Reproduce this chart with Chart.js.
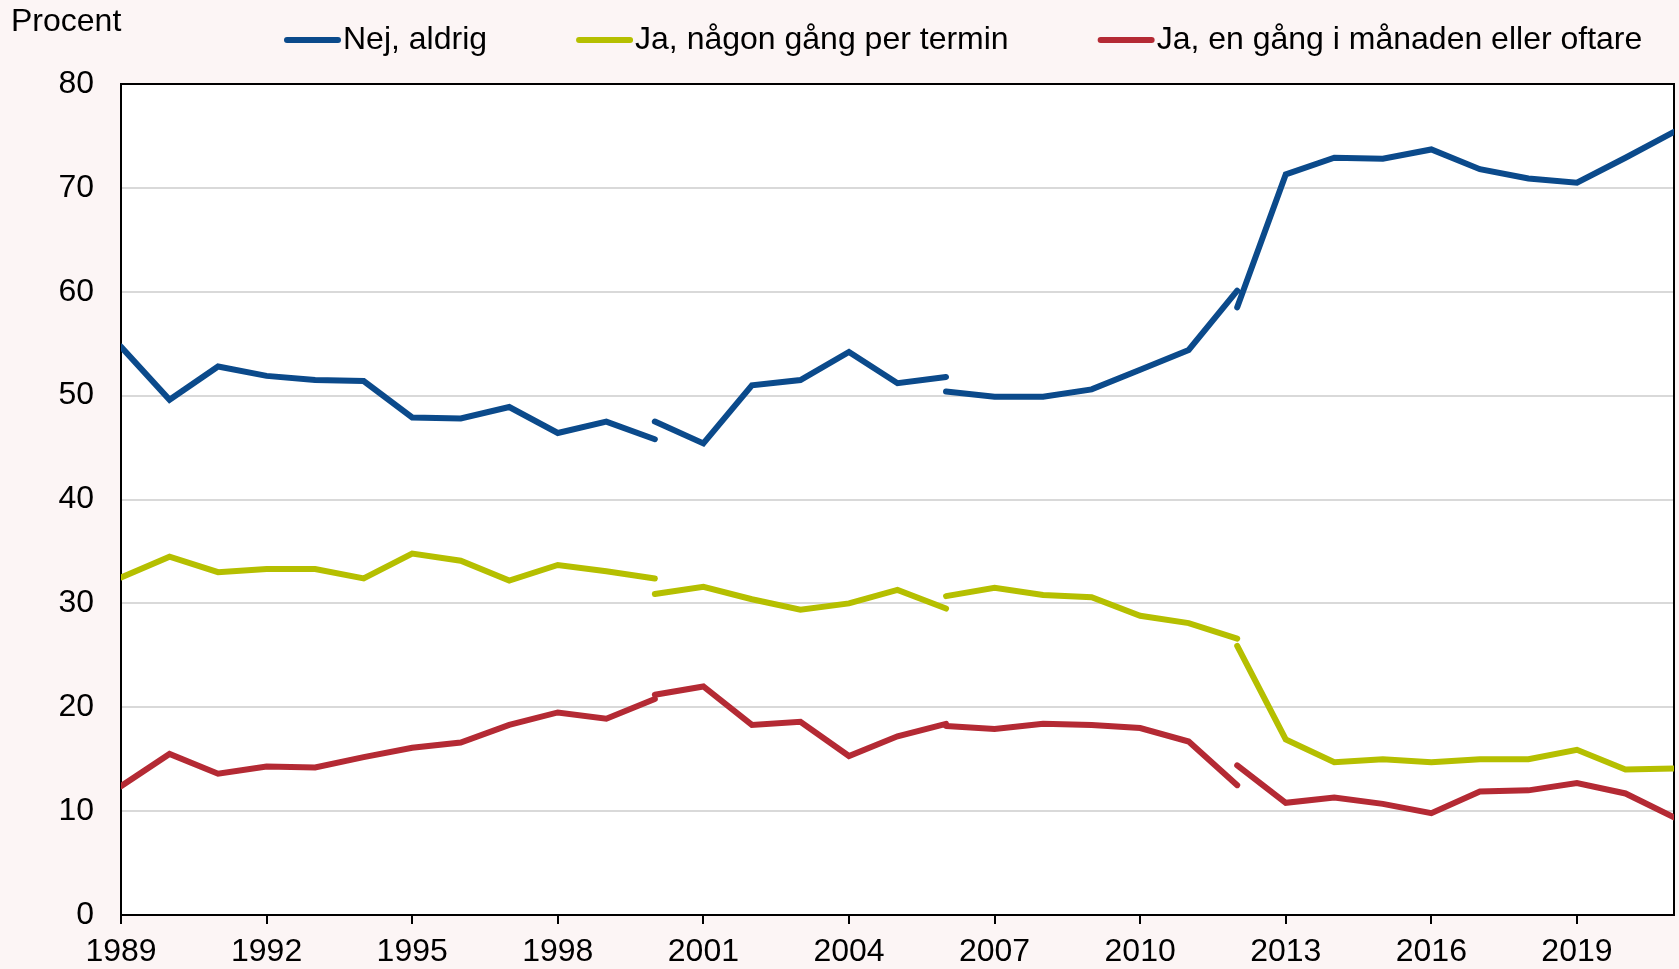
<!DOCTYPE html>
<html>
<head>
<meta charset="utf-8">
<script src="https://cdn.jsdelivr.net/npm/chart.js@4/dist/chart.umd.min.js"></script>
<style>
  html, body { margin: 0; padding: 0; background: #fcf5f5; }
  canvas { display: block; }
</style>
</head>
<body>
<canvas id="chart" width="1679" height="969"></canvas>
<script>
// survey years, split where the series has a break
const segYears = [
  [1989, 1990, 1991, 1992, 1993, 1994, 1995, 1996, 1997, 1998, 1999, 2000],
  [2000, 2001, 2002, 2003, 2004, 2005, 2006],
  [2006, 2007, 2008, 2009, 2010, 2011, 2012],
  [2012, 2013, 2014, 2015, 2016, 2017, 2018, 2019, 2020, 2021],
];

const nejAldrig = [
  [54.7, 49.6, 52.8, 51.9, 51.5, 51.4, 47.9, 47.8, 48.9, 46.4, 47.5, 45.8],
  [47.5, 45.4, 51.0, 51.5, 54.2, 51.2, 51.8],
  [50.4, 49.9, 49.9, 50.6, 52.5, 54.4, 60.1],
  [58.5, 71.3, 72.9, 72.8, 73.7, 71.8, 70.9, 70.5, 72.9, 75.4],
];

const perTermin = [
  [32.5, 34.5, 33.0, 33.3, 33.3, 32.4, 34.8, 34.1, 32.2, 33.7, 33.1, 32.4],
  [30.9, 31.6, 30.4, 29.4, 30.0, 31.3, 29.5],
  [30.7, 31.5, 30.8, 30.6, 28.8, 28.1, 26.6],
  [25.9, 16.9, 14.7, 15.0, 14.7, 15.0, 15.0, 15.9, 14.0, 14.1],
];

const perManad = [
  [12.4, 15.5, 13.6, 14.3, 14.2, 15.2, 16.1, 16.6, 18.3, 19.5, 18.9, 20.8],
  [21.2, 22.0, 18.3, 18.6, 15.3, 17.2, 18.4],
  [18.2, 17.9, 18.4, 18.3, 18.0, 16.7, 12.5],
  [14.4, 10.8, 11.3, 10.7, 9.8, 11.9, 12.0, 12.7, 11.7, 9.4],
];

const seriesLabels = [
  'Nej, aldrig',
  'Ja, någon gång per termin',
  'Ja, en gång i månaden eller oftare',
];
const seriesColors = ['#0b4a8b', '#b5bf00', '#b42a34'];

const yTicks = [0, 10, 20, 30, 40, 50, 60, 70, 80];
const xTickStep = 3;

const FONT = '"Liberation Sans", Arial, sans-serif';

// null between segments so the line breaks at the same year
function toPoints(segments) {
  const pts = [];
  segments.forEach((seg, i) => {
    if (i > 0) pts.push({ x: segYears[i][0], y: null });
    seg.forEach((v, j) => pts.push({ x: segYears[i][j], y: v }));
  });
  return pts;
}

const plotBox = {
  id: 'plotBox',
  beforeDraw(chart) {
    const { ctx, chartArea: a } = chart;
    ctx.save();
    ctx.fillStyle = '#ffffff';
    ctx.fillRect(a.left, a.top, a.right - a.left, a.bottom - a.top);
    ctx.restore();
  },
  beforeDatasetsDraw(chart) {
    const { ctx, chartArea: a } = chart;
    ctx.save();
    ctx.strokeStyle = '#000';
    ctx.lineWidth = 2;
    ctx.strokeRect(a.left, a.top, a.right - a.left, a.bottom - a.top);
    ctx.restore();
  },
};

// legend + unit label drawn by hand, the built-in legend can't sit this close
const topTexts = {
  id: 'topTexts',
  afterDraw(chart) {
    const ctx = chart.ctx;
    ctx.save();
    ctx.font = '32px ' + FONT;
    ctx.fillStyle = '#000';
    ctx.textBaseline = 'middle';
    ctx.textAlign = 'left';
    ctx.fillText('Procent', 11, 22);

    let x = 284;
    const y = 40;
    chart.data.datasets.forEach((ds) => {
      ctx.strokeStyle = ds.borderColor;
      ctx.lineWidth = 6;
      ctx.lineCap = 'round';
      ctx.beginPath();
      ctx.moveTo(x + 3, y);
      ctx.lineTo(x + 54, y);
      ctx.stroke();
      ctx.fillStyle = '#000';
      ctx.fillText(ds.label, x + 59, y);
      x += 59 + ctx.measureText(ds.label).width + 89;
    });
    ctx.restore();
  },
};

new Chart(document.getElementById('chart'), {
  type: 'line',
  data: {
    datasets: [nejAldrig, perTermin, perManad].map((segs, i) => ({
      label: seriesLabels[i],
      data: toPoints(segs),
      borderColor: seriesColors[i],
      backgroundColor: seriesColors[i],
      borderWidth: 6,
      borderCapStyle: 'round',
      pointRadius: 0,
      tension: 0,
      spanGaps: false,
    })),
  },
  options: {
    responsive: false,
    animation: false,
    layout: {
      padding: { top: 84, right: 5, left: 0, bottom: 0 },
    },
    plugins: {
      legend: { display: false },
      tooltip: { enabled: false },
    },
    scales: {
      x: {
        type: 'linear',
        min: segYears[0][0],
        max: segYears[segYears.length - 1].slice(-1)[0],
        afterFit: (scale) => {
          scale.height = 54;
        },
        border: { color: '#000', width: 2 },
        grid: {
          drawOnChartArea: false,
          color: '#000',
          lineWidth: 2,
          tickLength: 9,
        },
        ticks: {
          stepSize: xTickStep,
          includeBounds: false,
          maxRotation: 0,
          autoSkip: false,
          padding: 9,
          color: '#000',
          font: { family: FONT, size: 32 },
          callback: (v) => String(v),
        },
      },
      y: {
        min: yTicks[0],
        max: yTicks[yTicks.length - 1],
        afterFit: (scale) => {
          scale.width = 121;
        },
        border: { color: '#000', width: 2 },
        grid: {
          color: '#d9d9d9',
          lineWidth: 2,
          drawTicks: false,
        },
        ticks: {
          stepSize: 10,
          padding: 27,
          color: '#000',
          font: { family: FONT, size: 32 },
        },
      },
    },
  },
  plugins: [plotBox, topTexts],
});
</script>
</body>
</html>
